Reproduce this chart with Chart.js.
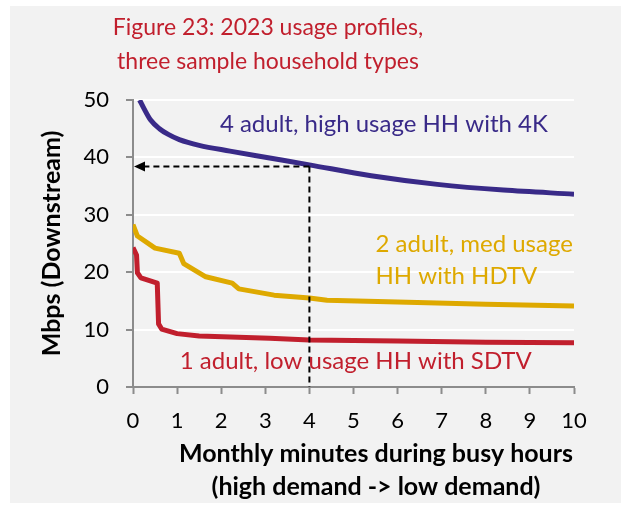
<!DOCTYPE html>
<html>
<head>
<meta charset="utf-8">
<script src="https://cdn.jsdelivr.net/npm/chart.js@4"></script>
<style>
  html, body { margin: 0; padding: 0; background: #fff; }
  #panel { position: absolute; left: 10px; top: 6px; width: 611px; height: 497px; background: #f2f2f2; }
</style>
</head>
<body>
<div id="panel"><canvas id="usageChart"></canvas></div>
<script>
'use strict';

// ── Data ──────────────────────────────────────────────────────────────────────

const highX = [0.15, 0.25, 0.4, 0.6, 0.8, 1.05, 1.5, 2.2, 3.1, 4.0, 5.4, 6.9, 8.4, 10];
const highY = [50, 48.5, 46.5, 45, 44, 43.1, 42.1, 41.1, 39.9, 38.7, 36.8, 35.3, 34.3, 33.6];

const medX = [0, 0.1, 0.5, 1.05, 1.15, 1.65, 2.25, 2.4, 3.2, 4.0, 4.4, 6, 8, 10];
const medY = [28.3, 26.3, 24.2, 23.3, 21.5, 19.2, 18.1, 17.1, 16.0, 15.5, 15.1, 14.8, 14.4, 14.1];

const lowX = [0, 0.08, 0.1, 0.18, 0.55, 0.58, 0.65, 1.0, 1.5, 3.1, 4.0, 6, 8, 10];
const lowY = [24.3, 23.0, 19.9, 19.0, 18.1, 11.0, 10.1, 9.3, 8.9, 8.5, 8.2, 8.0, 7.8, 7.7];

const xTicks = [0, 1, 2, 3, 4, 5, 6, 7, 8, 9, 10];
const yTicks = [0, 10, 20, 30, 40, 50];

// dashed read-off marker: 4 minutes -> ~38 Mbps
const markerX = 4;
const markerY = 38.4;

const titleLines = ['Figure 23: 2023 usage profiles,', 'three sample household types'];
const yTitle = 'Mbps (Downstream)';
const xTitleLines = ['Monthly minutes during busy hours', '(high demand -> low demand)'];

// series labels, placed in data units: [x, y, text]
const labelsHigh = [[1.97, 45.7, '4 adult, high usage HH with 4K']];
const labelsMed  = [[5.5, 24.8, '2 adult, med usage'], [5.5, 19.3, 'HH with HDTV']];
const labelsLow  = [[1.06, 4.4, '1 adult, low usage HH with SDTV']];

// ── Style ─────────────────────────────────────────────────────────────────────

const PURPLE = '#392a88';
const GOLD   = '#dea900';
const RED    = '#c11f2d';
const AXIS   = '#8c8c8c';
const FONT   = "Lato, 'Open Sans', sans-serif";

function zip(xs, ys) {
  return xs.map((x, i) => ({ x, y: ys[i] }));
}

function lineDataset(xs, ys, color, smooth) {
  return {
    data: zip(xs, ys),
    borderColor: color,
    backgroundColor: color,
    borderWidth: 5,
    pointRadius: 0,
    cubicInterpolationMode: smooth ? 'monotone' : 'default',
    tension: 0,
    borderJoinStyle: 'round',
  };
}

// ── Plugins ───────────────────────────────────────────────────────────────────

const markerPlugin = {
  id: 'marker',
  afterDatasetsDraw(chart) {
    const { ctx, scales: { x, y } } = chart;
    const px = x.getPixelForValue(markerX);
    const py = y.getPixelForValue(markerY);
    const x0 = x.getPixelForValue(0);
    const y0 = y.getPixelForValue(0);
    ctx.save();
    ctx.strokeStyle = '#000';
    ctx.lineWidth = 2;
    ctx.setLineDash([6, 4]);
    ctx.beginPath();
    ctx.moveTo(px, py);
    ctx.lineTo(x0 + 10, py);
    ctx.moveTo(px, py);
    ctx.lineTo(px, y0);
    ctx.stroke();
    ctx.setLineDash([]);
    ctx.fillStyle = '#000';
    ctx.beginPath();
    ctx.moveTo(x0 + 1, py);
    ctx.lineTo(x0 + 12, py - 5);
    ctx.lineTo(x0 + 12, py + 5);
    ctx.closePath();
    ctx.fill();
    ctx.restore();
  },
};

const textPlugin = {
  id: 'texts',
  afterDraw(chart) {
    const { ctx, scales: { x, y } } = chart;
    ctx.save();

    // title
    ctx.fillStyle = RED;
    ctx.font = `23px ${FONT}`;
    ctx.textAlign = 'center';
    ctx.textBaseline = 'alphabetic';
    ctx.fillText(titleLines[0], 258, 29);
    ctx.fillText(titleLines[1], 258, 63);

    // series labels
    ctx.font = `24px ${FONT}`;
    ctx.textAlign = 'left';
    ctx.textBaseline = 'middle';
    const put = (items, color) => {
      ctx.fillStyle = color;
      for (const [vx, vy, t] of items) ctx.fillText(t, x.getPixelForValue(vx), y.getPixelForValue(vy));
    };
    put(labelsHigh, PURPLE);
    put(labelsMed, GOLD);
    put(labelsLow, RED);

    // axis titles
    ctx.fillStyle = '#000';
    ctx.font = `bold 25px ${FONT}`;
    ctx.textAlign = 'center';
    ctx.fillText(xTitleLines[0], 366, 448);
    ctx.fillText(xTitleLines[1], 366, 481);

    ctx.translate(42, (chart.chartArea.top + chart.chartArea.bottom) / 2);
    ctx.rotate(-Math.PI / 2);
    ctx.fillText(yTitle, 0, 0);
    ctx.restore();
  },
};

// ── Chart ─────────────────────────────────────────────────────────────────────

Chart.defaults.font.family = FONT;
Chart.defaults.color = '#000';

new Chart(document.getElementById('usageChart'), {
  type: 'line',
  data: {
    datasets: [
      lineDataset(highX, highY, PURPLE, true),
      lineDataset(medX, medY, GOLD, false),
      lineDataset(lowX, lowY, RED, false),
    ],
  },
  options: {
    responsive: true,
    maintainAspectRatio: false,
    animation: false,
    layout: { padding: { top: 94, right: 47, left: 0, bottom: 0 } },
    plugins: { legend: { display: false }, tooltip: { enabled: false } },
    scales: {
      x: {
        type: 'linear',
        min: 0,
        max: 10,
        afterFit: s => { s.height = 116; },
        afterBuildTicks: s => { s.ticks = xTicks.map(v => ({ value: v })); },
        grid: { drawOnChartArea: false, tickColor: AXIS, tickLength: 7, tickWidth: 2 },
        border: { color: AXIS, width: 2 },
        ticks: { font: { size: 22 }, padding: 14, maxRotation: 0 },
      },
      y: {
        min: 0,
        max: 50,
        afterFit: s => { s.width = 123; },
        afterBuildTicks: s => { s.ticks = yTicks.map(v => ({ value: v })); },
        grid: { color: '#fff', lineWidth: 2, tickColor: AXIS, tickLength: 7, tickWidth: 2 },
        border: { color: AXIS, width: 2 },
        ticks: { font: { size: 22 }, padding: 17 },
      },
    },
  },
  plugins: [markerPlugin, textPlugin],
});
</script>
</body>
</html>
